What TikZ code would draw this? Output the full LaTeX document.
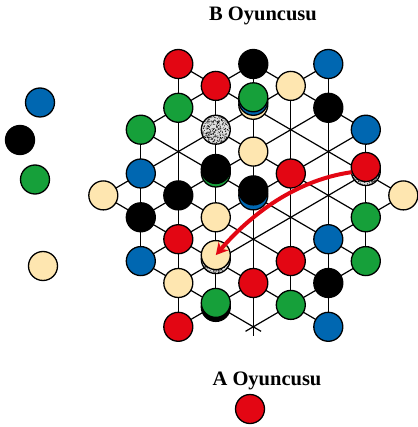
\documentclass[tikz,border=0pt]{standalone}
\usepackage{fontspec}
\setmainfont{Liberation Serif}
\usetikzlibrary{arrows.meta}
\definecolor{pred}{RGB}{227,6,19}
\definecolor{pgreen}{RGB}{22,160,58}
\definecolor{pblue}{RGB}{0,103,177}
\definecolor{pbeige}{RGB}{254,230,176}
\begin{document}
\begin{tikzpicture}[x=1pt,y=-1pt,
  piece/.style={circle, draw=black, line width=1.3pt, minimum size=29pt, inner sep=0pt},
  R/.style={piece, fill=pred}, G/.style={piece, fill=pgreen}, U/.style={piece, fill=pblue},
  K/.style={piece, fill=black}, Y/.style={piece, fill=pbeige},
  D/.style={piece, fill=black!12, path picture={\foreach \k in {1,...,520}{\fill[black] ([shift={({rand*16},{rand*16})}]path picture bounding box.center) circle (0.45pt);}}},
  gridline/.style={line width=1.2pt, shorten <=-9pt, shorten >=-9pt},
  lbl/.style={font=\fontsize{20.5}{24}\selectfont\bfseries, anchor=base, inner sep=0pt}]
\pgfmathsetseed{11}
\useasboundingbox (0,0) rectangle (417,427);
% lattice coordinates
\foreach \i in {0,...,8}{\foreach \m in {0,...,12}{\coordinate (v\i-\m) at ({253.3+37.5*(\i-4)},{64+21.9*\m});}}
% vertical lines
\foreach \i/\a/\b in {1/3/9, 2/0/12, 3/1/11, 4/0/12, 5/1/11, 6/0/12, 7/3/9}
  {\draw[gridline] (v\i-\a) -- (v\i-\b);}
% diagonal lines
\foreach \p/\q in {0-6/6-12, 1-5/6-10, 1-3/7-9, 2-2/7-7, 2-0/8-6, 4-0/7-3, 1-9/4-12,
                   8-6/2-12, 7-5/2-10, 7-3/1-9, 6-2/1-7, 6-0/0-6, 4-0/1-3, 7-9/4-12}
  {\draw[gridline] (v\p) -- (v\q);}
% pieces on board
\node[R] (a1) at (v2-0) {};
\node[K] (a2) at (v4-0) {};
\node[U] (a3) at (v6-0) {};
\node[R] (a4) at (v3-1) {};
\node[Y] (a5) at (v5-1) {};
\node[G] (a6) at (v2-2) {};
\node[Y, yshift=3pt] (a7a) at (v4-2) {};
\node[U, yshift=7pt] (a7b) at (v4-2) {};
\node[G, yshift=10.5pt] (a7c) at (v4-2) {};
\node[K] (a8) at (v6-2) {};
\node[G] (a9) at (v1-3) {};
\node[D] (a10) at (v3-3) {};
\node[U] (a11) at (v7-3) {};
\node[Y] (a12) at (v4-4) {};
\node[U] (a13) at (v1-5) {};
\node[G, yshift=1pt] (a14a) at (v3-5) {};
\node[K, yshift=4.5pt] (a14b) at (v3-5) {};
\node[R] (a15) at (v5-5) {};
\node[D, yshift=2.5pt] (a16a) at (v7-5) {};
\node[R, yshift=6.5pt] (a16b) at (v7-5) {};
\node[Y] (a17) at (v0-6) {};
\node[K] (a18) at (v2-6) {};
\node[U] (a19a) at (v4-6) {};
\node[K, yshift=5pt] (a19b) at (v4-6) {};
\node[Y] (a20) at (v8-6) {};
\node[K] (a21) at (v1-7) {};
\node[Y] (a22) at (v3-7) {};
\node[G] (a23) at (v7-7) {};
\node[R] (a24) at (v2-8) {};
\node[U] (a25) at (v6-8) {};
\node[U] (a26) at (v1-9) {};
\node[D, yshift=2pt] (a27a) at (v3-9) {};
\node[Y, yshift=6pt] (a27b) at (v3-9) {};
\node[R] (a28) at (v5-9) {};
\node[G] (a29) at (v7-9) {};
\node[Y] (a30) at (v2-10) {};
\node[R] (a31) at (v4-10) {};
\node[K] (a32) at (v6-10) {};
\node[K, yshift=-2pt] (a33a) at (v3-11) {};
\node[G, yshift=2pt] (a33b) at (v3-11) {};
\node[G] (a34) at (v5-11) {};
\node[R] (a35) at (v2-12) {};
\node[U] (a36) at (v6-12) {};
% pieces off board
\node[U] (b1) at (40,102.5) {};
\node[K] (b2) at (20,140) {};
\node[G] (b3) at (35,179.5) {};
\node[Y] (b4) at (43,266) {};
% labels
\node[lbl] (tB) at (263,20.5) {B Oyuncusu};
\node[lbl] (tA) at (267,385.5) {A Oyuncusu};
\node[R] (c1) at (250,409) {};
% move arrow
\draw[line width=4pt, pred, -{Stealth[length=12pt,width=13pt]}]
  (a16b.200) .. controls (290,181) and (245,221) .. (a27b.center);
\end{tikzpicture}
\end{document}
